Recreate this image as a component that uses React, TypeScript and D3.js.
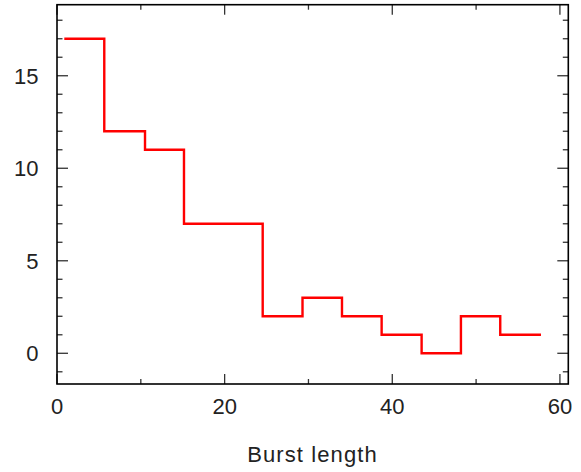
import React, { useRef, useEffect } from "react"
import * as d3 from "d3"

// histogram of burst lengths: bin edges and counts
const binEdges = [0.87, 5.64, 10.5, 15.15, 19.86, 24.54, 29.29, 34.0, 38.73, 43.5, 48.19, 52.88, 57.74]
const counts = [17, 12, 11, 7, 7, 2, 3, 2, 1, 0, 2, 1]
const xMajorTicks = [0, 20, 40, 60]
const xMinorTicks = [10, 30, 50]
const yMajorTicks = [0, 5, 10, 15]
const yMinorTicks = [-1, 1, 2, 3, 4, 6, 7, 8, 9, 11, 12, 13, 14, 16, 17, 18]

const W = 581
const H = 472

const App = () => {
    const ref = useRef<SVGSVGElement>(null)

    useEffect(() => {
        const svg = d3.select(ref.current)
        svg.selectAll("*").remove()

        const left = 57, right = 568.3, top = 4.7, bottom = 384
        const x = d3.scaleLinear().domain([0, 61]).range([left, right])
        const y = d3.scaleLinear().domain([-1.66, 18.84]).range([bottom, top])

        const font = "'Liberation Sans', Arial, sans-serif"

        // ticks on all four sides, pointing inward
        const g = svg.append("g").attr("stroke", "#333").attr("stroke-width", 1.3)
        const xt = [...xMajorTicks.map(v => ({ v, len: 10 })), ...xMinorTicks.map(v => ({ v, len: 5 }))]
        xt.forEach(t => {
            g.append("line").attr("x1", x(t.v)).attr("x2", x(t.v)).attr("y1", bottom).attr("y2", bottom - t.len)
            g.append("line").attr("x1", x(t.v)).attr("x2", x(t.v)).attr("y1", top).attr("y2", top + t.len)
        })
        const yt = [...yMajorTicks.map(v => ({ v, len: 11 })), ...yMinorTicks.map(v => ({ v, len: 5.5 }))]
        yt.forEach(t => {
            g.append("line").attr("y1", y(t.v)).attr("y2", y(t.v)).attr("x1", left).attr("x2", left + t.len)
            g.append("line").attr("y1", y(t.v)).attr("y2", y(t.v)).attr("x1", right).attr("x2", right - t.len)
        })

        // frame
        svg.append("rect")
            .attr("x", left).attr("y", top)
            .attr("width", right - left).attr("height", bottom - top)
            .attr("fill", "none").attr("stroke", "#000").attr("stroke-width", 1.6)

        // step line
        const pts: [number, number][] = []
        counts.forEach((c, i) => {
            pts.push([binEdges[i], c])
            pts.push([binEdges[i + 1], c])
        })
        const line = d3.line<[number, number]>().x(d => x(d[0])).y(d => y(d[1]))
        svg.append("path")
            .attr("d", line(pts))
            .attr("fill", "none")
            .attr("stroke", "#ff0000")
            .attr("stroke-width", 2.4)
            .attr("stroke-linejoin", "miter")

        // tick labels
        svg.selectAll(".xl").data(xMajorTicks).enter().append("text")
            .attr("x", d => x(d)).attr("y", 413.5)
            .attr("text-anchor", "middle")
            .attr("font-family", font).attr("font-size", 22)
            .attr("fill", "#222")
            .text(d => d)
        svg.selectAll(".yl").data(yMajorTicks).enter().append("text")
            .attr("x", 38.5).attr("y", d => y(d) + 7.9)
            .attr("text-anchor", "end")
            .attr("font-family", font).attr("font-size", 22)
            .attr("fill", "#222")
            .text(d => d)

        svg.append("text")
            .attr("x", 312.5).attr("y", 461.5)
            .attr("text-anchor", "middle")
            .attr("font-family", font).attr("font-size", 22)
            .attr("letter-spacing", 1.1)
            .attr("fill", "#222")
            .text("Burst length")
    }, [])

    return (
        <svg ref={ref} width={W} height={H} style={{ position: "absolute", left: 0, top: 0 }} />
    )
}

export default App
